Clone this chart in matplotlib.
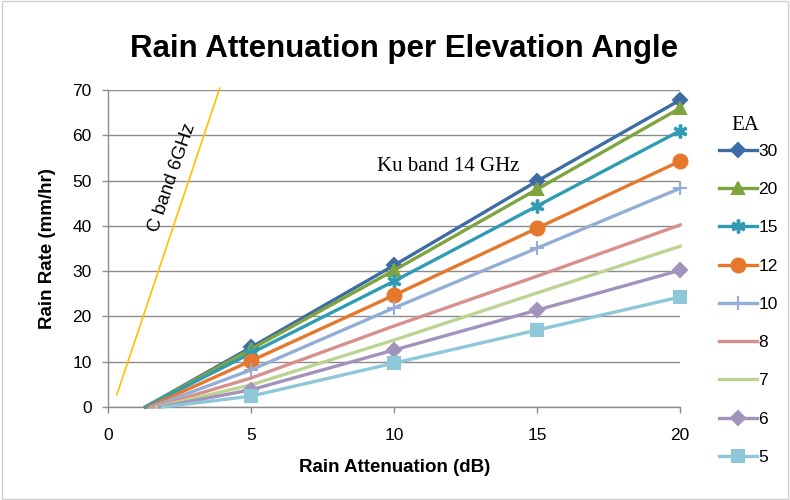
import matplotlib
matplotlib.use("Agg")
import matplotlib.pyplot as plt
from matplotlib.patches import Rectangle

# Rain attenuation (dB) -> rain rate (mm/hr), Ku band 14 GHz, one series per elevation angle
attenuation = [5, 10, 15, 20]
elevation = ["30", "20", "15", "12", "10", "8", "7", "6", "5"]
start_x = [1.3, 1.3, 1.3, 1.4, 1.5, 1.6, 1.7, 1.8, 1.9]
rain_rate = [
    [13.2, 31.3, 49.9, 67.8],
    [12.8, 30.2, 48.1, 66.0],
    [11.9, 27.8, 44.4, 61.0],
    [10.2, 24.7, 39.5, 54.3],
    [8.2, 21.9, 35.1, 48.3],
    [6.4, 17.9, 28.9, 40.2],
    [4.9, 14.8, 25.2, 35.5],
    [3.8, 12.6, 21.4, 30.2],
    [2.4, 9.7, 17.0, 24.3],
]
colors = ["#3e6ca6", "#7ea43d", "#2f9cb3", "#e5782d", "#93aed6",
          "#d8908e", "#bcd492", "#a293bd", "#8ec7d8"]
markers = ["D", "^", "$\\ast$", "o", "+", None, None, "D", "s"]
msizes = [7, 9, 9, 10, 10, 0, 0, 7, 9]

# C band 6 GHz reference line
cband_x = [0.3, 3.9]
cband_y = [2.7, 70.4]

fig = plt.figure(figsize=(7.9, 5), dpi=100)
fig.patches.append(Rectangle((0.002, 0.002), 0.996, 0.996, transform=fig.transFigure,
                             fill=False, edgecolor="#d0d0d0", linewidth=1))
ax = fig.add_axes([0.137, 0.186, 0.724, 0.634])

for i in range(len(elevation)):
    xs = [start_x[i]] + attenuation
    ys = [0] + rain_rate[i]
    ax.plot(xs, ys, color=colors[i], linewidth=2.4, marker=markers[i],
            markersize=msizes[i], markevery=[1, 2, 3, 4], markeredgewidth=1.5,
            label=elevation[i], clip_on=False, zorder=3)

ax.plot(cband_x, cband_y, color="#ffc000", linewidth=1.2, clip_on=False, zorder=2)

ax.set_xlim(0, 20)
ax.set_ylim(0, 70)
ax.set_xticks([0, 5, 10, 15, 20])
ax.set_yticks(range(0, 71, 10))
ax.grid(axis="y", color="#8c8c8c", linewidth=1)
ax.set_axisbelow(True)
for s in ["top", "right"]:
    ax.spines[s].set_visible(False)
for s in ["left", "bottom"]:
    ax.spines[s].set_color("#8c8c8c")
    ax.spines[s].set_linewidth(1)
ax.tick_params(colors="#8c8c8c", labelcolor="black", labelsize=12.5, length=4, width=1)
ax.tick_params(axis="x", pad=11)
ax.tick_params(axis="y", pad=8)
for lbl in ax.get_xticklabels() + ax.get_yticklabels():
    lbl.set_family("Liberation Sans")

ax.set_xlabel("Rain Attenuation (dB)", fontsize=13.5, fontweight="bold",
              family="Liberation Sans", labelpad=12)
ax.set_ylabel("Rain Rate (mm/hr)", fontsize=13.5, fontweight="bold",
              family="Liberation Sans", labelpad=12)
fig.text(0.512, 0.902, "Rain Attenuation per Elevation Angle", ha="center", va="center",
         fontsize=22.5, fontweight="bold", family="Liberation Sans")

ax.text(2.25, 50.5, "C band 6GHz", rotation=71, ha="center", va="center",
        fontsize=13.5, family="Liberation Sans")
ax.text(11.9, 53.2, "Ku band 14 GHz", ha="center", va="center",
        fontsize=15, family="Liberation Serif")

leg = ax.legend(loc="upper left", bbox_to_anchor=(1.055, 0.852), frameon=False,
                fontsize=12.5, handlelength=2.2, labelspacing=1.33,
                handletextpad=0.1, borderaxespad=0)
for t in leg.get_texts():
    t.set_family("Liberation Sans")
fig.text(0.943, 0.75, "EA", ha="center", va="center", fontsize=15,
         family="Liberation Serif")

fig.savefig("out.png", dpi=100)
